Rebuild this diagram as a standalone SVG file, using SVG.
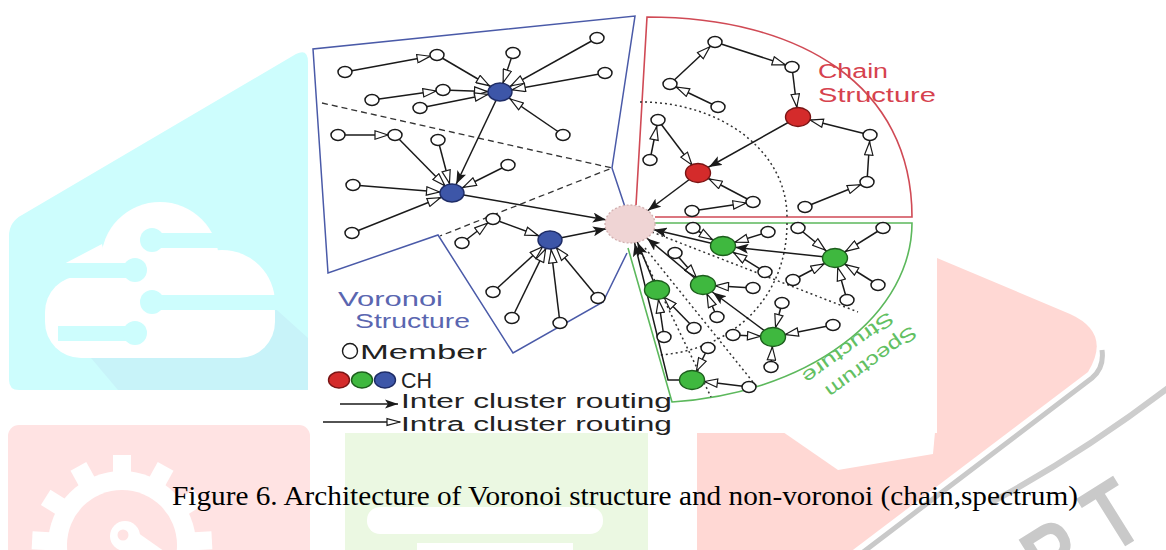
<svg xmlns="http://www.w3.org/2000/svg" width="1166" height="550" viewBox="0 0 1166 550">
<style>
  .mem { fill:#fff; stroke:#1a1a1a; stroke-width:1.5; }
  .chb { fill:#3d56a8; stroke:#1e2c66; stroke-width:1.4; }
  .chr { fill:#d42b2b; stroke:#7a1515; stroke-width:1.4; }
  .chg { fill:#3fb83f; stroke:#1d5e1d; stroke-width:1.4; }
  .sink { fill:#efd4d4; stroke:#d2b0b0; stroke-width:1.3; stroke-dasharray:2 2; }
  .e { stroke:#1a1a1a; stroke-width:1.5; fill:none; }
  .hollow { fill:#fff; stroke:#1a1a1a; stroke-width:1.2; }
  .solid { fill:#1a1a1a; }
  .dash { stroke:#333; stroke-width:1.3; fill:none; stroke-dasharray:6 4; }
  .dot { stroke:#333; stroke-width:1.5; fill:none; stroke-dasharray:2 3; }
  .sans { font-family:"Liberation Sans", Arial, sans-serif; }
  .lbl-b { fill:#5a66b0; font-size:20px; }
  .lbl-r { fill:#d6424e; font-size:20px; }
  .lbl-g { fill:#62c062; font-size:19px; }
  .leg { fill:#222; font-size:20px; }
  .leg-ch { fill:#222; font-size:22px; }
  .wm-cyan { fill:#cdfdfd; }
  .wm-white { fill:#fff; }
  .wm-letter { fill:#c9c9c9; font-size:74px; font-weight:bold; }
</style>
<defs>
  <!-- open heads: intra cluster routing -->
  <marker id="im" viewBox="0 0 15 10" refX="21" refY="5" markerWidth="15" markerHeight="10" markerUnits="userSpaceOnUse" orient="auto"><path class="hollow" d="M1,0.8 L14,5 L1,9.2 Z"/></marker>
  <marker id="ich" viewBox="0 0 15 10" refX="26.5" refY="5" markerWidth="15" markerHeight="10" markerUnits="userSpaceOnUse" orient="auto"><path class="hollow" d="M1,0.8 L14,5 L1,9.2 Z"/></marker>
  <marker id="icv" viewBox="0 0 15 10" refX="24" refY="5" markerWidth="15" markerHeight="10" markerUnits="userSpaceOnUse" orient="auto"><path class="hollow" d="M1,0.8 L14,5 L1,9.2 Z"/></marker>
  <marker id="il" viewBox="0 0 15 10" refX="14" refY="5" markerWidth="15" markerHeight="10" markerUnits="userSpaceOnUse" orient="auto"><path class="hollow" d="M1,1.6 L14,5 L1,8.4 Z"/></marker>
  <!-- solid heads: inter cluster routing -->
  <marker id="xch" viewBox="0 0 14 10" refX="25.5" refY="5" markerWidth="14" markerHeight="10" markerUnits="userSpaceOnUse" orient="auto"><path class="solid" d="M0,0 L13,5 L0,10 L3,5 Z"/></marker>
  <marker id="xcv" viewBox="0 0 14 10" refX="23" refY="5" markerWidth="14" markerHeight="10" markerUnits="userSpaceOnUse" orient="auto"><path class="solid" d="M0,0 L13,5 L0,10 L3,5 Z"/></marker>
  <marker id="xs24" viewBox="0 0 14 10" refX="37.5" refY="5" markerWidth="14" markerHeight="10" markerUnits="userSpaceOnUse" orient="auto"><path class="solid" d="M0,0 L13,5 L0,10 L3,5 Z"/></marker>
  <marker id="xs22" viewBox="0 0 14 10" refX="35.5" refY="5" markerWidth="14" markerHeight="10" markerUnits="userSpaceOnUse" orient="auto"><path class="solid" d="M0,0 L13,5 L0,10 L3,5 Z"/></marker>
  <marker id="xs19" viewBox="0 0 14 10" refX="33" refY="5" markerWidth="14" markerHeight="10" markerUnits="userSpaceOnUse" orient="auto"><path class="solid" d="M0,0 L13,5 L0,10 L3,5 Z"/></marker>
  <marker id="xl" viewBox="0 0 14 10" refX="13" refY="5" markerWidth="14" markerHeight="10" markerUnits="userSpaceOnUse" orient="auto"><path class="solid" d="M0,0.6 L13,5 L0,9.4 L3,5 Z"/></marker>
</defs>

<!-- faded page watermark -->
<g id="watermark">
  <!-- cloud badge -->
  <path class="wm-cyan" d="M9,236 Q9,222 22,215 L296,54 Q308,48 308,62 L308,380 Q308,390 298,390 L19,390 Q9,390 9,380 Z"/>
  <polygon points="80,345 268,302 308,338 308,390 118,390" fill="#c8f3f9"/>
  <g class="wm-white">
    <circle cx="160" cy="261" r="59"/>
    <circle cx="222" cy="303" r="53"/>
    <rect x="45" y="276" width="230" height="82" rx="36"/>
    <polygon points="60,266 102,244 108,272 60,272"/>
  </g>
  <g class="wm-cyan">
    <rect x="150" y="233" width="80" height="15"/><circle cx="152" cy="240" r="12"/>
    <rect x="52" y="263" width="84" height="15"/><circle cx="135" cy="270" r="12"/>
    <rect x="152" y="295" width="130" height="15"/><circle cx="152" cy="302" r="12"/>
    <rect x="58" y="326" width="78" height="15"/><circle cx="135" cy="333" r="12"/>
  </g>
  <!-- gear badge -->
  <rect x="8" y="425" width="302" height="140" rx="11" fill="#ffe3e3"/>
  <g fill="#fff">
    <circle cx="122" cy="545" r="74"/>
    <rect x="113" y="455" width="18" height="26" transform="rotate(0 122 545)"/>
    <rect x="113" y="455" width="18" height="26" transform="rotate(29 122 545)"/>
    <rect x="113" y="455" width="18" height="26" transform="rotate(58 122 545)"/>
    <rect x="113" y="455" width="18" height="26" transform="rotate(87 122 545)"/>
    <rect x="113" y="455" width="18" height="26" transform="rotate(-29 122 545)"/>
    <rect x="113" y="455" width="18" height="26" transform="rotate(-58 122 545)"/>
    <rect x="113" y="455" width="18" height="26" transform="rotate(-87 122 545)"/>
  </g>
  <circle cx="122" cy="545" r="55" fill="#ffe3e3"/>
  <g fill="#fff">
    <circle cx="125" cy="536" r="15"/>
    <rect x="122" y="526" width="52" height="20" transform="rotate(35 125 536)"/>
  </g>
  <circle cx="123" cy="535" r="5.5" fill="#ffe3e3"/>
  <!-- book badge -->
  <rect x="345" y="433" width="303" height="130" fill="#ebf8e2"/>
  <rect x="367" y="507" width="236" height="27" rx="13" fill="#fff"/>
  <rect x="417" y="543" width="156" height="10" fill="#fff"/>
  <!-- play badge -->
  <path d="M697,157 L1070,314 Q1112,333 1088,372 L697,668 Z" fill="#ffd8d4"/>
  <path d="M1102,350 C1104,364 1098,373 1092,378 L858,556" fill="none" stroke="#c9c9c9" stroke-width="5"/>
  <path d="M1168,388 Q1080,455 990,503" fill="none" stroke="#cdcdcd" stroke-width="6"/>
  <text class="sans wm-letter" transform="translate(1013,540) rotate(-32) scale(1,1.3)" y="53">R</text>
  <text class="sans wm-letter" transform="translate(1074,497) rotate(-32) scale(1,1.3)" y="53">T</text>
</g>

<!-- figure sheet -->
<rect x="311" y="0" width="626" height="433" fill="#fff"/>
<polygon points="783,432 838,470 933,454 935,432" fill="#fff"/>

<!-- cluster regions -->
<g id="regions">
  <path d="M625,207 L612,168 L635,16 L313,49 L328,273 L438,235 L513,353 L603,302 L627,253" fill="none" stroke="#4a5aa8" stroke-width="1.5"/>
  <path class="dash" d="M322,103 L612,168 L440,236"/>
  <path d="M636,205 L647,17 C800,17 912,85 912,217 L655,217" fill="none" stroke="#d04a55" stroke-width="1.6"/>
  <path class="dot" d="M640,102 C720,102 787,150 787,217"/>
  <path d="M653,223 L912,223 A264,180 0 0 1 672,402 L628,248" fill="none" stroke="#5cb85c" stroke-width="1.6"/>
  <path class="dot" d="M787,223 C787,300 730,350 660,355"/>
  <path class="dot" d="M652,232 L858,312"/>
  <path class="dot" d="M645,248 L757,387"/>
  <path class="dot" d="M641,252 L711,397"/>
</g>

<g id="region-labels" class="sans">
  <text class="lbl-b" x="338" y="306" textLength="105" lengthAdjust="spacingAndGlyphs">Voronoi</text>
  <text class="lbl-b" x="355" y="328" textLength="115" lengthAdjust="spacingAndGlyphs">Structure</text>
  <text class="lbl-r" x="818" y="78" textLength="70" lengthAdjust="spacingAndGlyphs">Chain</text>
  <text class="lbl-r" x="818" y="102" textLength="118" lengthAdjust="spacingAndGlyphs">Structure</text>
  <text class="lbl-g" transform="translate(911,325) rotate(144)" textLength="108" lengthAdjust="spacingAndGlyphs">Spectrum</text>
  <text class="lbl-g" transform="translate(888,311) rotate(144)" textLength="108" lengthAdjust="spacingAndGlyphs">Structure</text>
</g>

<!-- routing links -->
<g id="connectors" class="e">
  <!-- voronoi -->
  <line x1="345" y1="72" x2="437" y2="55" marker-end="url(#im)"/>
  <line x1="437" y1="55" x2="500" y2="92" marker-end="url(#ich)"/>
  <line x1="513" y1="53" x2="500" y2="92" marker-end="url(#icv)"/>
  <line x1="597" y1="38" x2="500" y2="92" marker-end="url(#ich)"/>
  <line x1="605" y1="73" x2="500" y2="92" marker-end="url(#ich)"/>
  <line x1="372" y1="100" x2="443" y2="90" marker-end="url(#im)"/>
  <line x1="443" y1="90" x2="500" y2="92" marker-end="url(#ich)"/>
  <line x1="420" y1="108" x2="500" y2="92" marker-end="url(#ich)"/>
  <line x1="563" y1="135" x2="500" y2="92" marker-end="url(#ich)"/>
  <line x1="500" y1="92" x2="452" y2="193" marker-end="url(#xcv)"/>
  <line x1="338" y1="135" x2="395" y2="135" marker-end="url(#im)"/>
  <line x1="395" y1="135" x2="452" y2="193" marker-end="url(#icv)"/>
  <line x1="438" y1="140" x2="452" y2="193" marker-end="url(#icv)"/>
  <line x1="508" y1="165" x2="452" y2="193" marker-end="url(#ich)"/>
  <line x1="353" y1="185" x2="452" y2="193" marker-end="url(#ich)"/>
  <line x1="352" y1="233" x2="452" y2="193" marker-end="url(#ich)"/>
  <line x1="452" y1="193" x2="630" y2="224" marker-end="url(#xs24)"/>
  <line x1="462" y1="243" x2="493" y2="219" marker-end="url(#im)"/>
  <line x1="493" y1="219" x2="550" y2="240" marker-end="url(#ich)"/>
  <line x1="493" y1="292" x2="550" y2="240" marker-end="url(#icv)"/>
  <line x1="512" y1="318" x2="550" y2="240" marker-end="url(#icv)"/>
  <line x1="560" y1="323" x2="550" y2="240" marker-end="url(#icv)"/>
  <line x1="598" y1="298" x2="550" y2="240" marker-end="url(#icv)"/>
  <line x1="550" y1="240" x2="630" y2="224" marker-end="url(#xs24)"/>
  <!-- chain -->
  <line x1="670" y1="84" x2="715" y2="42" marker-end="url(#im)"/>
  <line x1="715" y1="42" x2="792" y2="67" marker-end="url(#im)"/>
  <line x1="718" y1="107" x2="670" y2="84" marker-end="url(#im)"/>
  <line x1="792" y1="67" x2="798" y2="117" marker-end="url(#icv)"/>
  <line x1="870" y1="135" x2="798" y2="117" marker-end="url(#ich)"/>
  <line x1="867" y1="182" x2="870" y2="135" marker-end="url(#im)"/>
  <line x1="805" y1="207" x2="867" y2="182" marker-end="url(#im)"/>
  <line x1="798" y1="117" x2="698" y2="173" marker-end="url(#xch)"/>
  <line x1="658" y1="120" x2="698" y2="173" marker-end="url(#icv)"/>
  <line x1="650" y1="160" x2="658" y2="120" marker-end="url(#im)"/>
  <line x1="753" y1="202" x2="698" y2="173" marker-end="url(#ich)"/>
  <line x1="692" y1="211" x2="753" y2="202" marker-end="url(#im)"/>
  <line x1="698" y1="173" x2="630" y2="224" marker-end="url(#xs22)"/>
  <!-- spectrum -->
  <line x1="693" y1="228" x2="723" y2="246" marker-end="url(#ich)"/>
  <line x1="768" y1="232" x2="723" y2="246" marker-end="url(#ich)"/>
  <line x1="765" y1="272" x2="723" y2="246" marker-end="url(#ich)"/>
  <line x1="675" y1="253" x2="703" y2="285" marker-end="url(#icv)"/>
  <line x1="753" y1="288" x2="703" y2="285" marker-end="url(#ich)"/>
  <line x1="717" y1="317" x2="703" y2="285" marker-end="url(#icv)"/>
  <line x1="694" y1="328" x2="657" y2="290" marker-end="url(#icv)"/>
  <line x1="664" y1="337" x2="657" y2="290" marker-end="url(#icv)"/>
  <line x1="798" y1="228" x2="835" y2="258" marker-end="url(#ich)"/>
  <line x1="883" y1="228" x2="835" y2="258" marker-end="url(#ich)"/>
  <line x1="793" y1="280" x2="835" y2="258" marker-end="url(#ich)"/>
  <line x1="878" y1="285" x2="835" y2="258" marker-end="url(#ich)"/>
  <line x1="847" y1="300" x2="835" y2="258" marker-end="url(#icv)"/>
  <line x1="782" y1="303" x2="773" y2="337" marker-end="url(#icv)"/>
  <line x1="733" y1="335" x2="773" y2="337" marker-end="url(#ich)"/>
  <line x1="833" y1="325" x2="773" y2="337" marker-end="url(#ich)"/>
  <line x1="771" y1="367" x2="773" y2="337" marker-end="url(#icv)"/>
  <line x1="708" y1="348" x2="692" y2="380" marker-end="url(#icv)"/>
  <line x1="749" y1="387" x2="692" y2="380" marker-end="url(#ich)"/>
  <line x1="835" y1="258" x2="723" y2="246" marker-end="url(#xch)"/>
  <line x1="773" y1="337" x2="703" y2="285" marker-end="url(#xch)"/>
  <line x1="723" y1="246" x2="630" y2="224" marker-end="url(#xs24)"/>
  <line x1="703" y1="285" x2="630" y2="224" marker-end="url(#xs22)"/>
  <line x1="657" y1="290" x2="630" y2="224" marker-end="url(#xs19)"/>
  <path d="M692,380 L668,380 L630,224" marker-end="url(#xs19)"/>
</g>

<!-- sensor nodes -->
<g id="nodes">
  <g id="sink"><ellipse class="sink" cx="630" cy="224" rx="25" ry="19"/></g>
  <g id="v-ch1"><ellipse class="chb" cx="500" cy="92" rx="12" ry="9"/></g>
  <g id="v-ch2"><ellipse class="chb" cx="452" cy="193" rx="12" ry="9"/></g>
  <g id="v-ch3"><ellipse class="chb" cx="550" cy="240" rx="12" ry="9"/></g>
  <g id="c-ch1"><ellipse class="chr" cx="798" cy="117" rx="12.5" ry="9.5"/></g>
  <g id="c-ch2"><ellipse class="chr" cx="698" cy="173" rx="12.5" ry="9.5"/></g>
  <g id="s-ch1"><ellipse class="chg" cx="723" cy="246" rx="12.5" ry="9.5"/></g>
  <g id="s-ch2"><ellipse class="chg" cx="703" cy="285" rx="12.5" ry="9.5"/></g>
  <g id="s-ch3"><ellipse class="chg" cx="657" cy="290" rx="12.5" ry="9.5"/></g>
  <g id="s-ch4"><ellipse class="chg" cx="773" cy="337" rx="12.5" ry="9.5"/></g>
  <g id="s-ch5"><ellipse class="chg" cx="692" cy="380" rx="12.5" ry="9.5"/></g>
  <g id="s-ch6"><ellipse class="chg" cx="835" cy="258" rx="12.5" ry="9.5"/></g>

  <g id="v-m1"><ellipse class="mem" cx="345" cy="72" rx="7" ry="5.5"/></g>
  <g id="v-m2"><ellipse class="mem" cx="437" cy="55" rx="7" ry="5.5"/></g>
  <g id="v-m3"><ellipse class="mem" cx="513" cy="53" rx="7" ry="5.5"/></g>
  <g id="v-m4"><ellipse class="mem" cx="597" cy="38" rx="7" ry="5.5"/></g>
  <g id="v-m5"><ellipse class="mem" cx="605" cy="73" rx="7" ry="5.5"/></g>
  <g id="v-m6"><ellipse class="mem" cx="372" cy="100" rx="7" ry="5.5"/></g>
  <g id="v-m7"><ellipse class="mem" cx="443" cy="90" rx="7" ry="5.5"/></g>
  <g id="v-m8"><ellipse class="mem" cx="420" cy="108" rx="7" ry="5.5"/></g>
  <g id="v-m9"><ellipse class="mem" cx="563" cy="135" rx="7" ry="5.5"/></g>
  <g id="v-m10"><ellipse class="mem" cx="338" cy="135" rx="7" ry="5.5"/></g>
  <g id="v-m11"><ellipse class="mem" cx="395" cy="135" rx="7" ry="5.5"/></g>
  <g id="v-m12"><ellipse class="mem" cx="438" cy="140" rx="7" ry="5.5"/></g>
  <g id="v-m13"><ellipse class="mem" cx="508" cy="165" rx="7" ry="5.5"/></g>
  <g id="v-m14"><ellipse class="mem" cx="353" cy="185" rx="7" ry="5.5"/></g>
  <g id="v-m15"><ellipse class="mem" cx="352" cy="233" rx="7" ry="5.5"/></g>
  <g id="v-m16"><ellipse class="mem" cx="493" cy="219" rx="7" ry="5.5"/></g>
  <g id="v-m17"><ellipse class="mem" cx="462" cy="243" rx="7" ry="5.5"/></g>
  <g id="v-m18"><ellipse class="mem" cx="493" cy="292" rx="7" ry="5.5"/></g>
  <g id="v-m19"><ellipse class="mem" cx="512" cy="318" rx="7" ry="5.5"/></g>
  <g id="v-m20"><ellipse class="mem" cx="560" cy="323" rx="7" ry="5.5"/></g>
  <g id="v-m21"><ellipse class="mem" cx="598" cy="298" rx="7" ry="5.5"/></g>

  <g id="c-m1"><ellipse class="mem" cx="715" cy="42" rx="7" ry="5.5"/></g>
  <g id="c-m2"><ellipse class="mem" cx="792" cy="67" rx="7" ry="5.5"/></g>
  <g id="c-m3"><ellipse class="mem" cx="670" cy="84" rx="7" ry="5.5"/></g>
  <g id="c-m4"><ellipse class="mem" cx="718" cy="107" rx="7" ry="5.5"/></g>
  <g id="c-m5"><ellipse class="mem" cx="658" cy="120" rx="7" ry="5.5"/></g>
  <g id="c-m6"><ellipse class="mem" cx="650" cy="160" rx="7" ry="5.5"/></g>
  <g id="c-m7"><ellipse class="mem" cx="870" cy="135" rx="7" ry="5.5"/></g>
  <g id="c-m8"><ellipse class="mem" cx="867" cy="182" rx="7" ry="5.5"/></g>
  <g id="c-m9"><ellipse class="mem" cx="805" cy="207" rx="7" ry="5.5"/></g>
  <g id="c-m10"><ellipse class="mem" cx="753" cy="202" rx="7" ry="5.5"/></g>
  <g id="c-m11"><ellipse class="mem" cx="692" cy="211" rx="7" ry="5.5"/></g>

  <g id="s-m1"><ellipse class="mem" cx="693" cy="228" rx="7" ry="5.5"/></g>
  <g id="s-m2"><ellipse class="mem" cx="768" cy="232" rx="7" ry="5.5"/></g>
  <g id="s-m3"><ellipse class="mem" cx="798" cy="228" rx="7" ry="5.5"/></g>
  <g id="s-m4"><ellipse class="mem" cx="883" cy="228" rx="7" ry="5.5"/></g>
  <g id="s-m5"><ellipse class="mem" cx="765" cy="272" rx="7" ry="5.5"/></g>
  <g id="s-m6"><ellipse class="mem" cx="793" cy="280" rx="7" ry="5.5"/></g>
  <g id="s-m7"><ellipse class="mem" cx="878" cy="285" rx="7" ry="5.5"/></g>
  <g id="s-m8"><ellipse class="mem" cx="847" cy="300" rx="7" ry="5.5"/></g>
  <g id="s-m9"><ellipse class="mem" cx="675" cy="253" rx="7" ry="5.5"/></g>
  <g id="s-m10"><ellipse class="mem" cx="753" cy="288" rx="7" ry="5.5"/></g>
  <g id="s-m11"><ellipse class="mem" cx="717" cy="317" rx="7" ry="5.5"/></g>
  <g id="s-m12"><ellipse class="mem" cx="694" cy="328" rx="7" ry="5.5"/></g>
  <g id="s-m13"><ellipse class="mem" cx="664" cy="337" rx="7" ry="5.5"/></g>
  <g id="s-m14"><ellipse class="mem" cx="782" cy="303" rx="7" ry="5.5"/></g>
  <g id="s-m15"><ellipse class="mem" cx="733" cy="335" rx="7" ry="5.5"/></g>
  <g id="s-m16"><ellipse class="mem" cx="833" cy="325" rx="7" ry="5.5"/></g>
  <g id="s-m17"><ellipse class="mem" cx="708" cy="348" rx="7" ry="5.5"/></g>
  <g id="s-m18"><ellipse class="mem" cx="771" cy="367" rx="7" ry="5.5"/></g>
  <g id="s-m19"><ellipse class="mem" cx="749" cy="387" rx="7" ry="5.5"/></g>
</g>

<!-- key -->
<g id="legend" class="sans">
  <circle cx="350" cy="351" r="7.5" fill="#fff" stroke="#1a1a1a" stroke-width="1.4"/>
  <text class="leg" x="360" y="359" textLength="127" lengthAdjust="spacingAndGlyphs">Member</text>
  <ellipse class="chr" cx="339" cy="380" rx="10.5" ry="8"/>
  <ellipse class="chg" cx="362" cy="380" rx="10.5" ry="8"/>
  <ellipse class="chb" cx="385" cy="380" rx="10.5" ry="8"/>
  <text class="leg-ch" x="401" y="388" textLength="31" lengthAdjust="spacingAndGlyphs">CH</text>
  <line class="e" x1="340" y1="404" x2="398" y2="404" marker-end="url(#xl)"/>
  <text class="leg" x="401" y="408" textLength="271" lengthAdjust="spacingAndGlyphs">Inter cluster routing</text>
  <line class="e" x1="323" y1="422" x2="400" y2="422" marker-end="url(#il)"/>
  <text class="leg" x="401" y="431" textLength="271" lengthAdjust="spacingAndGlyphs">Intra cluster routing</text>
</g>

<text x="172" y="505" font-family="'Liberation Serif', 'Times New Roman', serif" font-size="28" fill="#000" textLength="906" lengthAdjust="spacingAndGlyphs">Figure 6. Architecture of Voronoi structure and non-voronoi (chain,spectrum)</text>
</svg>
